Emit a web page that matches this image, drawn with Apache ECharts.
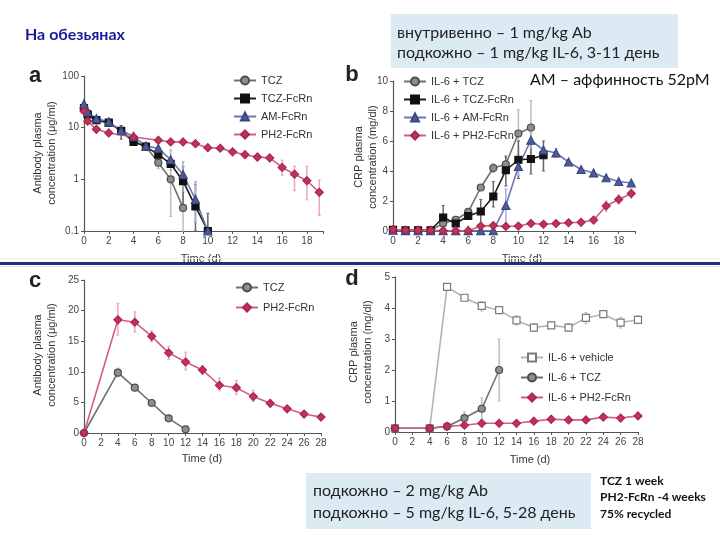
<!DOCTYPE html>
<html><head><meta charset="utf-8">
<script src="https://cdn.jsdelivr.net/npm/echarts@6/dist/echarts.min.js"></script>
<style>html,body{margin:0;padding:0;background:#fff}#c{width:720px;height:540px}</style>
</head><body><div id="c"></div>
<script>
// ---------- Panel a (log scale, antibody) ----------
const aTczX = [0, 0.3, 1, 2, 3, 4, 5, 6, 7, 8];
const aTczY = [22, 19, 14, 12.5, 8.7, 5.5, 4.3, 2.1, 1.0, 0.28];
const aTczFcRnX = [0, 0.3, 1, 2, 3, 4, 5, 6, 7, 8, 9, 10];
const aTczFcRnY = [24, 18, 14, 12.5, 8.7, 5.3, 4.3, 3.0, 2.0, 0.92, 0.30, 0.1];
const aAmX = [0, 0.3, 1, 2, 3, 4, 5, 6, 7, 8, 9, 10];
const aAmY = [29, 20, 15, 13, 8.8, 6.8, 4.4, 4.0, 2.4, 1.24, 0.41, 0.1];
const aPhX = [0, 0.3, 1, 2, 4, 6, 7, 8, 9, 10, 11, 12, 13, 14, 15, 16, 17, 18, 19];
const aPhY = [21, 13.3, 9.3, 7.9, 6.6, 5.7, 5.3, 5.3, 4.9, 4.1, 4.0, 3.4, 3.0, 2.7, 2.6, 1.7, 1.26, 0.94, 0.56];
const aErrGrey = [[7, 0.19, 2.3], [8, 0.1, 0.55], [6, 1.6, 2.8]];
const aErrBlack = [[3, 6, 11], [8, 0.25, 1.75], [9, 0.1, 0.8], [10, 0.1, 0.22]];
const aErrBlue = [[7, 1.5, 3.7], [8, 0.6, 2.2], [9, 0.15, 0.9]];
const aErrPink = [[13, 2.6, 3.5], [14, 2.3, 3.2], [16, 1.2, 2.35], [17, 0.6, 1.8], [18, 0.4, 1.8], [19, 0.2, 0.97]];
const aLogTicks = ['0.1', '1', '10', '100'];

// ---------- Panel b (CRP) ----------
const bTczX = [0, 1, 2, 3, 4, 5, 6, 7, 8, 9, 10, 11];
const bTczY = [0.08, 0.05, 0.05, 0.05, 0.5, 0.75, 1.27, 2.9, 4.2, 4.45, 6.5, 6.9];
const bTczFcRnX = [0, 1, 2, 3, 4, 5, 6, 7, 8, 9, 10, 11, 12];
const bTczFcRnY = [0.08, 0.05, 0.05, 0.05, 0.9, 0.5, 1.0, 1.3, 2.3, 4.05, 4.75, 4.8, 5.05];
const bAmX = [0, 1, 2, 3, 4, 5, 6, 7, 8, 9, 10, 11, 12, 13, 14, 15, 16, 17, 18, 19];
const bAmY = [0.05, 0.03, 0.03, 0.03, 0.02, 0.02, 0.02, 0.02, 0.03, 1.7, 4.3, 6.05, 5.4, 5.2, 4.6, 4.1, 3.87, 3.55, 3.3, 3.2];
const bPhX = [0, 1, 2, 3, 4, 5, 6, 7, 8, 9, 10, 11, 12, 13, 14, 15, 16, 17, 18, 19];
const bPhY = [0.1, 0.05, 0.05, 0.05, 0.02, 0.02, 0.02, 0.33, 0.36, 0.3, 0.33, 0.5, 0.45, 0.5, 0.55, 0.58, 0.73, 1.67, 2.1, 2.5];
const bErrGrey = [[8, 3.9, 4.5], [9, 4.0, 4.9], [10, 4.6, 8.1], [11, 5.2, 8.7]];
const bErrBlack = [[4, 0.2, 1.7], [7, 0.4, 2.1], [8, 1.6, 3.3], [9, 3.0, 5.0], [10, 3.5, 6.0], [11, 3.8, 5.8], [12, 4.0, 6.0]];
const bErrBlue = [[9, 0.5, 2.8], [10, 3.7, 5.0], [11, 5.5, 6.6], [13, 4.9, 5.5]];
const bErrPink = [[17, 1.3, 2.0], [18, 1.8, 2.4], [19, 2.2, 2.8]];

// ---------- Panel c (antibody, linear) ----------
const cTczX = [0, 4, 6, 8, 10, 12];
const cTczY = [0, 9.85, 7.4, 4.9, 2.4, 0.6];
const cPhX = [0, 4, 6, 8, 10, 12, 14, 16, 18, 20, 22, 24, 26, 28];
const cPhY = [0, 18.5, 18.1, 15.8, 13.1, 11.6, 10.3, 7.8, 7.4, 5.95, 4.85, 3.95, 3.1, 2.6];
const cErrGrey = [[4, 9.2, 10.6]];
const cErrPink = [[4, 16, 21.2], [6, 16.5, 19.8], [8, 14.9, 16.7], [10, 12, 14.2], [12, 10.3, 13.2], [14, 9.6, 11], [16, 6.9, 9], [18, 6.3, 8.6], [20, 5.2, 7], [22, 4.3, 5.4], [24, 3.5, 4.4]];

// ---------- Panel d (CRP) ----------
const dVehX = [0, 4, 6, 8, 10, 12, 14, 16, 18, 20, 22, 24, 26, 28];
const dVehY = [0.12, 0.12, 4.68, 4.33, 4.07, 3.93, 3.6, 3.37, 3.44, 3.37, 3.68, 3.8, 3.53, 3.62];
const dTczX = [0, 4, 6, 8, 10, 12];
const dTczY = [0.12, 0.12, 0.18, 0.45, 0.75, 2.0];
const dPhX = [0, 4, 6, 8, 10, 12, 14, 16, 18, 20, 22, 24, 26, 28];
const dPhY = [0.12, 0.12, 0.18, 0.22, 0.28, 0.28, 0.28, 0.35, 0.41, 0.39, 0.39, 0.48, 0.45, 0.52];
const dErrGrey = [[8, 0.3, 0.65], [10, 0.4, 1.1], [12, 1.0, 3.0]];
const dErrVeh = [[10, 3.9, 4.2], [14, 3.45, 3.75], [16, 3.25, 3.5], [20, 3.25, 3.5], [22, 3.5, 3.85], [26, 3.35, 3.7], [28, 3.5, 3.75]];

const zip = (xs, ys) => xs.map((x, i) => [x, ys[i]]);

const FONT = 'Liberation Sans';
const C = {
  grey: { line: '#707070', fill: '#8e8e8e', border: '#4c4c4c', err: '#bdbdbd' },
  black: { line: '#1c1c1c', fill: '#111', border: '#111', err: '#666' },
  blue: { line: '#6e76b4', fill: '#4d5b9c', border: '#3a467e', err: '#a8acd2' },
  pink: { line: '#d45e80', fill: '#c3305a', border: '#a8284c', err: '#eba7ba' },
  veh: { line: '#b4b4b4', fill: '#fff', border: '#7a7a7a', err: '#bbb' }
};

function lineS(name, data, idx, col, symbol, size) {
  return {
    type: 'line', name, data, xAxisIndex: idx, yAxisIndex: idx,
    symbol, symbolSize: size || 7, showAllSymbol: true, animation: false,
    lineStyle: { color: col.line, width: 1.6 },
    itemStyle: { color: col.fill, borderColor: col.border, borderWidth: 1.2 },
    z: 3
  };
}
function errS(data, idx, color) {
  return {
    type: 'custom', xAxisIndex: idx, yAxisIndex: idx, data, animation: false, silent: true, z: 2,
    encode: { x: 0, y: [1, 2] },
    renderItem: (params, api) => {
      const p1 = api.coord([api.value(0), api.value(1)]);
      const p2 = api.coord([api.value(0), api.value(2)]);
      return { type: 'group', children: [
        { type: 'line', shape: { x1: p1[0], y1: p1[1], x2: p2[0], y2: p2[1] }, style: { stroke: color, lineWidth: 1.5 } },
        { type: 'line', shape: { x1: p2[0] - 1.5, y1: p2[1], x2: p2[0] + 1.5, y2: p2[1] }, style: { stroke: color, lineWidth: 1 } },
        { type: 'line', shape: { x1: p1[0] - 1.5, y1: p1[1], x2: p1[0] + 1.5, y2: p1[1] }, style: { stroke: color, lineWidth: 1 } }
      ] };
    }
  };
}

const axisCommon = {
  axisLine: { show: true, lineStyle: { color: '#555', width: 1.2 } },
  axisTick: { show: true, length: 3, lineStyle: { color: '#555' } },
  axisLabel: { color: '#444', fontSize: 10, fontFamily: FONT, margin: 5 },
  splitLine: { show: false }
};
function xAx(idx, max, interval) {
  return Object.assign({}, axisCommon, {
    type: 'value', gridIndex: idx, min: 0, max, interval,
    axisLabel: Object.assign({}, axisCommon.axisLabel, {
      formatter: v => (Math.abs(v / interval - Math.round(v / interval)) < 1e-6 ? String(v) : '')
    })
  });
}
function yAx(idx, min, max, interval) {
  return Object.assign({}, axisCommon, { type: 'value', gridIndex: idx, min, max, interval });
}

const grids = [
  { left: 84, top: 76, width: 239, height: 155 },
  { left: 393, top: 81, width: 242, height: 150 },
  { left: 84, top: 280, width: 237, height: 153 },
  { left: 395, top: 277, width: 243, height: 155 }
];

const legendText = { color: '#333', fontSize: 11, fontFamily: FONT };
const legends = [
  { left: 228, top: 70, orient: 'vertical', itemWidth: 22, itemHeight: 10, itemGap: 7, textStyle: legendText, data: ['TCZ', 'TCZ-FcRn', 'AM-FcRn', 'PH2-FcRn'] },
  { left: 398, top: 71, orient: 'vertical', itemWidth: 22, itemHeight: 10, itemGap: 7, textStyle: legendText, data: ['IL-6 + TCZ', 'IL-6 + TCZ-FcRn', 'IL-6 + AM-FcRn', 'IL-6 + PH2-FcRn'] },
  { left: 230, top: 277, orient: 'vertical', itemWidth: 22, itemHeight: 10, itemGap: 9, textStyle: legendText, data: ['TCZ ', 'PH2-FcRn '] },
  { left: 515, top: 347, orient: 'vertical', itemWidth: 22, itemHeight: 10, itemGap: 9, textStyle: legendText, data: ['IL-6 + vehicle', 'IL-6 + TCZ ', 'IL-6 + PH2-FcRn '] }
];

const series = [
  errS(aErrGrey, 0, C.grey.err), errS(aErrBlack, 0, C.black.err), errS(aErrBlue, 0, C.blue.err), errS(aErrPink, 0, C.pink.err),
  lineS('TCZ', zip(aTczX, aTczY), 0, C.grey, 'circle', 7),
  lineS('TCZ-FcRn', zip(aTczFcRnX, aTczFcRnY), 0, C.black, 'rect', 7),
  lineS('AM-FcRn', zip(aAmX, aAmY), 0, C.blue, 'triangle', 8),
  lineS('PH2-FcRn', zip(aPhX, aPhY), 0, C.pink, 'diamond', 8),

  errS(bErrGrey, 1, C.grey.err), errS(bErrBlack, 1, C.black.err), errS(bErrBlue, 1, C.blue.err), errS(bErrPink, 1, C.pink.err),
  lineS('IL-6 + TCZ', zip(bTczX, bTczY), 1, C.grey, 'circle', 7),
  lineS('IL-6 + TCZ-FcRn', zip(bTczFcRnX, bTczFcRnY), 1, C.black, 'rect', 7),
  lineS('IL-6 + AM-FcRn', zip(bAmX, bAmY), 1, C.blue, 'triangle', 8),
  lineS('IL-6 + PH2-FcRn', zip(bPhX, bPhY), 1, C.pink, 'diamond', 8),

  errS(cErrGrey, 2, C.grey.err), errS(cErrPink, 2, C.pink.err),
  lineS('TCZ ', zip(cTczX, cTczY), 2, C.grey, 'circle', 7),
  lineS('PH2-FcRn ', zip(cPhX, cPhY), 2, C.pink, 'diamond', 8),

  errS(dErrVeh, 3, C.veh.err), errS(dErrGrey, 3, C.grey.err),
  lineS('IL-6 + vehicle', zip(dVehX, dVehY), 3, C.veh, 'rect', 7),
  lineS('IL-6 + TCZ ', zip(dTczX, dTczY), 3, C.grey, 'circle', 7),
  lineS('IL-6 + PH2-FcRn ', zip(dPhX, dPhY), 3, C.pink, 'diamond', 8)
];

function txt(x, y, text, opts) {
  return Object.assign({ type: 'text', x, y, z: 10, style: Object.assign({ text, fill: '#333', font: '11px "' + FONT + '"', textAlign: 'center', textVerticalAlign: 'middle' }, opts || {}) });
}
function vtxt(x, y, text) {
  return { type: 'text', x, y, rotation: Math.PI / 2, z: 10,
    style: { text, fill: '#333', font: '11px "' + FONT + '"', textAlign: 'center', textVerticalAlign: 'middle', lineHeight: 14 } };
}

const boxFont = '16px Lato';
const graphic = [
  // panel letters
  txt(35, 76, 'a', { font: 'bold 22px "' + FONT + '"', fill: '#222' }),
  txt(352, 75, 'b', { font: 'bold 22px "' + FONT + '"', fill: '#222' }),
  txt(35, 281, 'c', { font: 'bold 22px "' + FONT + '"', fill: '#222' }),
  txt(352, 279, 'd', { font: 'bold 22px "' + FONT + '"', fill: '#222' }),
  // axis titles
  txt(201, 259, 'Time (d)'), txt(522, 259, 'Time (d)'),
  txt(202, 459, 'Time (d)'), txt(530, 460, 'Time (d)'),
  vtxt(45, 153, 'Antibody plasma\nconcentration (μg/ml)'),
  vtxt(366, 157, 'CRP plasma\nconcentration (mg/dl)'),
  vtxt(45, 355, 'Antibody plasma\nconcentration (μg/ml)'),
  vtxt(361, 352, 'CRP plasma\nconcentration (mg/dl)'),
  // separator
  { type: 'rect', z: 20, shape: { x: 0, y: 262, width: 720, height: 3 }, style: { fill: '#1e2d80' } },
  { type: 'rect', z: 20, shape: { x: 0, y: 266, width: 720, height: 1 }, style: { fill: '#d6e4ef' } },
  { type: 'rect', z: 20, shape: { x: 0, y: 258, width: 720, height: 1 }, style: { fill: '#f3f3d8' } },
  // slide texts
  txt(25, 35, 'На обезьянах', { font: 'bold 16px Lato', fill: '#1a1a9a', textAlign: 'left' }),
  { type: 'rect', z: 5, shape: { x: 391, y: 14, width: 287, height: 54 }, style: { fill: '#dbeaf3' } },
  txt(397, 33, 'внутривенно – 1 mg/kg Ab', { font: boxFont, fill: '#222', textAlign: 'left' }),
  txt(397, 53, 'подкожно – 1 mg/kg IL-6, 3-11 день', { font: boxFont, fill: '#222', textAlign: 'left' }),
  txt(530, 80, 'AM – аффинность 52pM', { font: boxFont, fill: '#111', textAlign: 'left' }),
  { type: 'rect', z: 5, shape: { x: 306, y: 473, width: 285, height: 56 }, style: { fill: '#dbeaf3' } },
  txt(313, 491, 'подкожно – 2 mg/kg Ab', { font: boxFont, fill: '#222', textAlign: 'left' }),
  txt(313, 513, 'подкожно – 5 mg/kg IL-6, 5-28 день', { font: boxFont, fill: '#222', textAlign: 'left' }),
  txt(600, 481, 'TCZ 1 week', { font: 'bold 12px Lato', fill: '#111', textAlign: 'left' }),
  txt(600, 497, 'PH2-FcRn -4 weeks', { font: 'bold 12px Lato', fill: '#111', textAlign: 'left' }),
  txt(600, 514, '75% recycled', { font: 'bold 12px Lato', fill: '#111', textAlign: 'left' })
];

const chart = echarts.init(document.getElementById('c'), null, { renderer: 'canvas' });
chart.setOption({
  backgroundColor: '#fff',
  animation: false,
  grid: grids,
  legend: legends,
  xAxis: [xAx(0, 19.3, 2), xAx(1, 19.3, 2), xAx(2, 28, 2), xAx(3, 28, 2)],
  yAxis: [
    Object.assign({}, axisCommon, { type: 'log', logBase: 10, gridIndex: 0, min: 0.1, max: 100,
      axisLabel: Object.assign({}, axisCommon.axisLabel, { formatter: v => aLogTicks.find(t => Math.abs(parseFloat(t) - v) < 1e-9) || '' }) }),
    yAx(1, 0, 10, 2), yAx(2, 0, 25, 5), yAx(3, 0, 5, 1)
  ],
  series,
  graphic
});
</script></body></html>
